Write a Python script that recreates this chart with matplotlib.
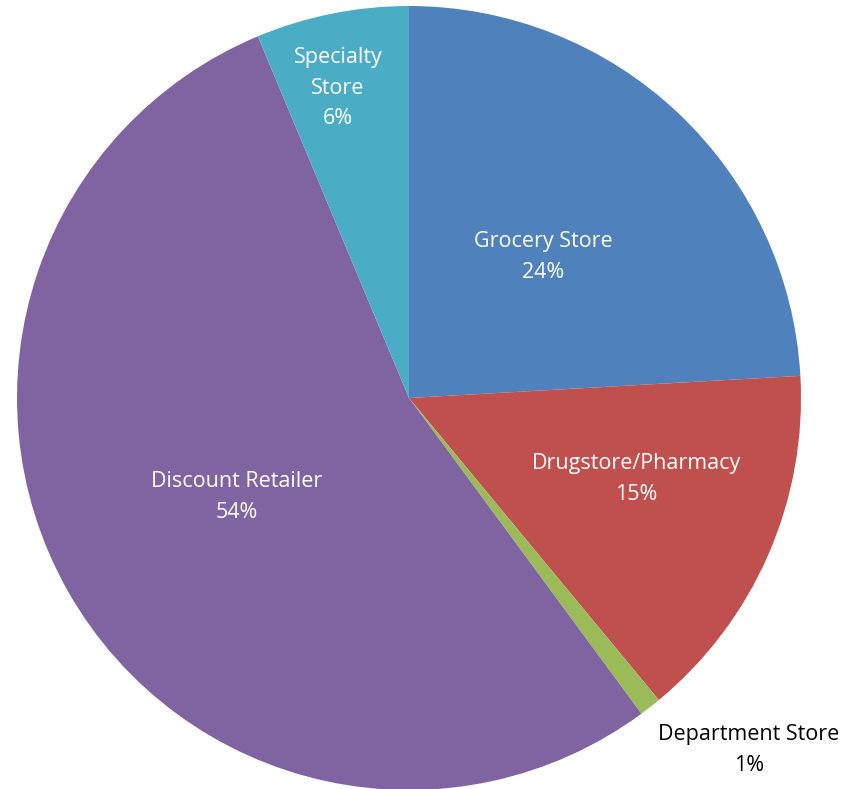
import matplotlib.pyplot as plt

categories = ["Grocery Store", "Drugstore/Pharmacy", "Department Store",
              "Discount Retailer", "Specialty Store"]
shares = [24.1, 14.9, 0.9, 53.8, 6.3]
pct_labels = ["24%", "15%", "1%", "54%", "6%"]
colors = ["#4F81BD", "#C0504D", "#9BBB59", "#8064A2", "#4BACC6"]

# label text (some wrap over two lines) and where each goes, in pixel space
label_text = ["Grocery Store", "Drugstore/Pharmacy", "Department Store",
              "Discount Retailer", "Specialty\nStore"]
label_pos = [(543, 257), (636, 479), (749, 750), (237, 497), (338, 88)]
label_color = ["white", "white", "black", "white", "white"]

W, H = 848, 789
fig = plt.figure(figsize=(W / 100, H / 100), dpi=100)
ax = fig.add_axes([0, 0, 1, 1])
ax.axis("off")

cx, cy, r = 409, 398, 392
ax.pie(shares, colors=colors, startangle=90, counterclock=False,
       center=(cx, H - cy), radius=r, wedgeprops={"linewidth": 0})
ax.set_xlim(0, W)
ax.set_ylim(0, H)
ax.set_aspect("equal")

for txt, pct, (x, y), c in zip(label_text, pct_labels, label_pos, label_color):
    ax.text(x, H - y, f"{txt}\n{pct}", ha="center", va="center", color=c,
            fontsize=15.5, family="Open Sans", linespacing=1.6)

fig.savefig("out.png", dpi=100)
